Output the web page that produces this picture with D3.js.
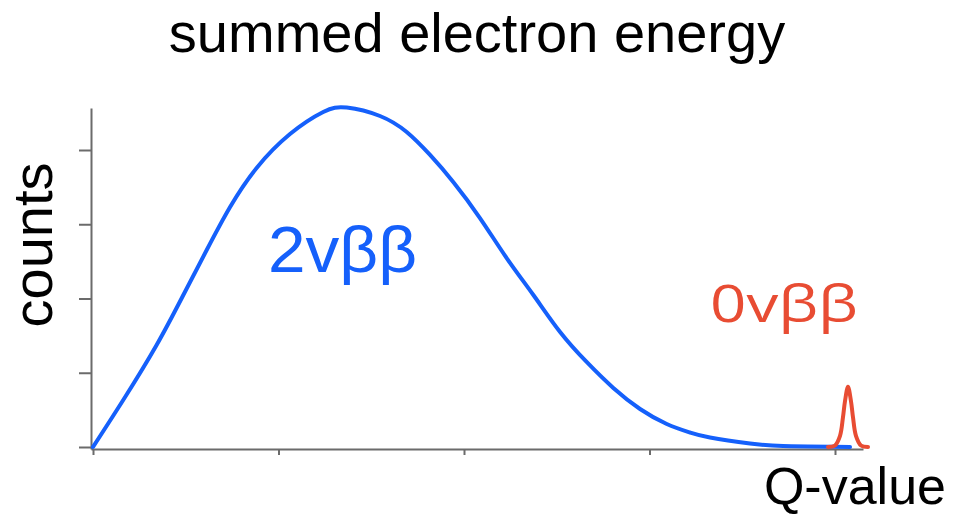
<!DOCTYPE html>
<html>
<head>
<meta charset="utf-8">
<script src="https://cdn.jsdelivr.net/npm/d3@7"></script>
<style>
  html, body { margin: 0; padding: 0; background: #fff; }
  svg { display: block; }
</style>
</head>
<body>
<svg id="chart" width="966" height="516"></svg>
<script>
// ---- data (x and y in tick units) ----
const twoNuX = [0, 0.163, 0.343, 0.487, 0.613, 0.739, 0.882, 1.062, 1.241, 1.368, 1.547, 1.691, 1.817, 1.942, 2.086, 2.230, 2.374, 2.518, 2.661, 2.805, 2.949, 3.093, 3.218, 3.326, 3.542, 3.720, 3.997, 4.081];
const twoNuY = [0, 0.633, 1.374, 2.047, 2.653, 3.232, 3.758, 4.215, 4.512, 4.572, 4.458, 4.242, 3.933, 3.569, 3.084, 2.545, 2.047, 1.549, 1.145, 0.795, 0.512, 0.310, 0.195, 0.128, 0.047, 0.013, 0.003, 0.0];
const zeroNuX = [3.962, 4.000, 4.027, 4.043, 4.054, 4.070, 4.086, 4.097, 4.113, 4.140, 4.178];
const zeroNuY = [0, 0.02, 0.15, 0.40, 0.62, 0.81, 0.62, 0.40, 0.15, 0.02, 0];
const xTicks = [0, 1, 2, 3, 4];
const yTicks = [0, 1, 2, 3, 4];
const titleText = "summed electron energy";
const yLabel = "counts";
const xLabel = "Q-value";
const label2nu = "2vββ";
const label0nu = "0vββ";

const blue = "#1560fb";
const red = "#e84c33";
const axisGray = "#6b6b6b";

const svg = d3.select("#chart");

const x = d3.scaleLinear().domain([0, 4]).range([93, 835]);
const y = d3.scaleLinear().domain([0, 4]).range([447, 150]);

// axes (slightly extended lines to meet at the corner)
const xAxisScale = x.copy().domain([x.invert(91), x.invert(863)]).range([91, 863]);
const yAxisScale = y.copy().domain([y.invert(449), y.invert(108)]).range([449, 108]);

const gx = svg.append("g").attr("transform", "translate(0,449)")
  .call(d3.axisBottom(xAxisScale).tickValues(xTicks).tickSize(6).tickSizeOuter(0).tickFormat(""));
const gy = svg.append("g").attr("transform", "translate(91,0)")
  .call(d3.axisLeft(yAxisScale).tickValues(yTicks).tickSize(12).tickSizeOuter(0).tickFormat(""));
[gx, gy].forEach(g => {
  g.select(".domain").attr("stroke", axisGray).attr("stroke-width", 2);
  g.selectAll(".tick line").attr("stroke", axisGray).attr("stroke-width", 2);
});

const blueLine = d3.line().x(d => x(d[0])).y(d => y(d[1])).curve(d3.curveNatural);
const redLine = d3.line().x(d => x(d[0])).y(d => y(d[1])).curve(d3.curveCatmullRom.alpha(0.5));

svg.append("path")
  .datum(twoNuX.map((v, i) => [v, twoNuY[i]]))
  .attr("d", blueLine)
  .attr("fill", "none").attr("stroke", blue).attr("stroke-width", 4)
  .attr("stroke-linejoin", "round").attr("stroke-linecap", "round");

svg.append("path")
  .datum(zeroNuX.map((v, i) => [v, zeroNuY[i]]))
  .attr("d", redLine)
  .attr("fill", "none").attr("stroke", red).attr("stroke-width", 4)
  .attr("stroke-linejoin", "round").attr("stroke-linecap", "round");

const font = "'Liberation Sans', Arial, Helvetica, sans-serif";

svg.append("text").text(titleText)
  .attr("x", 477).attr("y", 52).attr("text-anchor", "middle")
  .attr("font-family", font).attr("font-size", 56).attr("fill", "#000");

svg.append("text").text(yLabel)
  .attr("transform", "translate(52,245) rotate(-90)")
  .attr("text-anchor", "middle")
  .attr("font-family", font).attr("font-size", 56).attr("fill", "#000");

svg.append("text").text(xLabel)
  .attr("x", 946).attr("y", 504).attr("text-anchor", "end")
  .attr("font-family", font).attr("font-size", 52).attr("fill", "#000");

svg.append("text").text(label2nu)
  .attr("x", 268).attr("y", 272)
  .attr("textLength", 149).attr("lengthAdjust", "spacingAndGlyphs")
  .attr("font-family", font).attr("font-size", 65).attr("fill", blue);

svg.append("text").text(label0nu)
  .attr("x", 710).attr("y", 322)
  .attr("textLength", 148).attr("lengthAdjust", "spacingAndGlyphs")
  .attr("font-family", "'Open Sans', 'Liberation Sans', sans-serif").attr("font-size", 52).attr("fill", red);
</script>
</body>
</html>
